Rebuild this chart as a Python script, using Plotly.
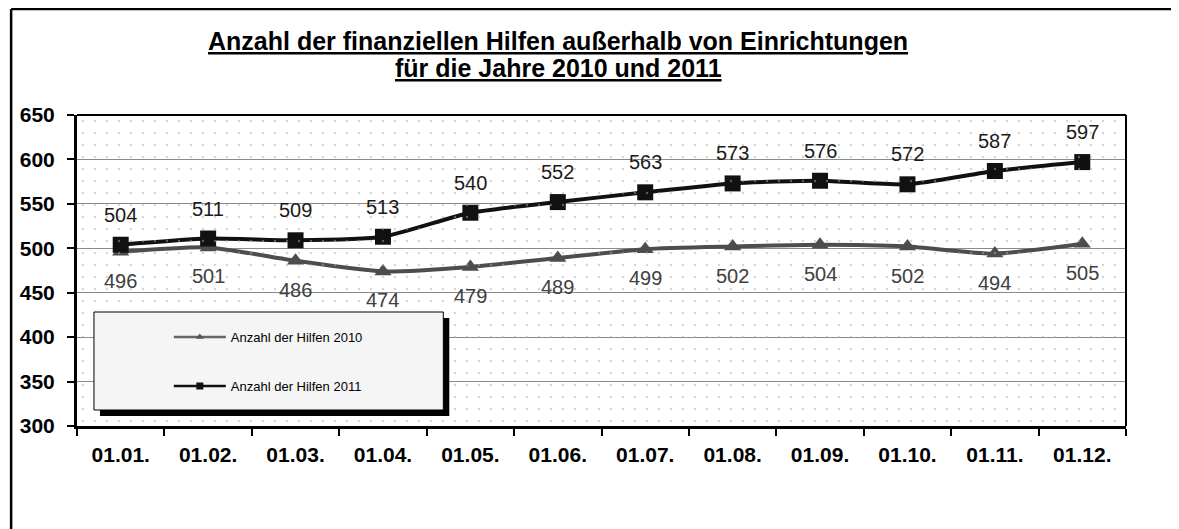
import plotly.graph_objects as go

months = ["01.01.", "01.02.", "01.03.", "01.04.", "01.05.", "01.06.",
          "01.07.", "01.08.", "01.09.", "01.10.", "01.11.", "01.12."]
hilfen_2010 = [496, 501, 486, 474, 479, 489, 499, 502, 504, 502, 494, 505]
hilfen_2011 = [504, 511, 509, 513, 540, 552, 563, 573, 576, 572, 587, 597]

# page body has an 8px margin, so the figure is a bit smaller than the window
OFF = 8
W, H = 1179 - OFF, 529 - OFF
L, T = 75 - OFF, 115 - OFF
pw, ph = 1126 - 75, 426 - 115
R, B = W - L - pw, H - T - ph


def px_x(p):
    # screen pixel -> paper x
    return (p - OFF - L) / pw


def px_y(p):
    # screen pixel -> paper y
    return (T + ph - (p - OFF)) / ph


FONT = "Arial, Liberation Sans, sans-serif"
C2010 = "#4d4d4d"
C2011 = "#111111"

fig = go.Figure()

# dotted background of the plot area
fig.add_trace(go.Scatter(
    x=[0, 1, 1, 0, 0], y=[0, 0, 1, 1, 0], xaxis="x2", yaxis="y2",
    mode="none", fill="toself", fillcolor="rgba(0,0,0,0)",
    fillpattern=dict(shape=".", fgcolor="#a8a8a8", bgcolor="rgba(0,0,0,0)",
                     size=12, solidity=0.03),
    hoverinfo="skip", showlegend=False))

fig.add_trace(go.Scatter(
    x=months, y=hilfen_2010, mode="lines+markers", name="Anzahl der Hilfen 2010",
    line=dict(color=C2010, width=4, shape="spline", smoothing=0.6),
    marker=dict(symbol="triangle-up", size=15, color=C2010), showlegend=False))
fig.add_trace(go.Scatter(
    x=months, y=hilfen_2011, mode="lines+markers", name="Anzahl der Hilfen 2011",
    line=dict(color=C2011, width=4, shape="spline", smoothing=0.6),
    marker=dict(symbol="square", size=16, color=C2011), showlegend=False))

# legend entries with small markers
fig.add_trace(go.Scatter(
    x=[None], y=[None], mode="lines+markers", name="Anzahl der Hilfen 2010",
    line=dict(color="#666666", width=2.5),
    marker=dict(symbol="triangle-up", size=7, color="#555555"), legend="legend"))
fig.add_trace(go.Scatter(
    x=[None], y=[None], mode="lines+markers", name="Anzahl der Hilfen 2011",
    line=dict(color="#111111", width=2.5),
    marker=dict(symbol="square", size=7, color="#111111"), legend="legend2"))

annotations = []
for m, v in zip(months, hilfen_2010):
    annotations.append(dict(x=m, y=v, text=str(v), showarrow=False, yshift=-29,
                            font=dict(family=FONT, size=20, color="#404040")))
for m, v in zip(months, hilfen_2011):
    annotations.append(dict(x=m, y=v, text=str(v), showarrow=False, yshift=30,
                            font=dict(family=FONT, size=20, color="#1a1a1a")))
for txt, yc in [("Anzahl der finanziellen Hilfen außerhalb von Einrichtungen", 41),
                ("für die Jahre 2010 und 2011", 68)]:
    annotations.append(dict(
        xref="paper", yref="paper", x=px_x(557), y=px_y(yc), yanchor="middle",
        showarrow=False, text="<b><u>" + txt + "</u></b>",
        font=dict(family=FONT, size=25, color="black")))

shapes = [
    # legend shadow and box
    dict(type="rect", xref="paper", yref="paper", layer="above",
         x0=px_x(98), x1=px_x(448), y0=px_y(416), y1=px_y(318),
         fillcolor="black", line=dict(width=0)),
    dict(type="rect", xref="paper", yref="paper", layer="above",
         x0=px_x(92), x1=px_x(442), y0=px_y(410), y1=px_y(312),
         fillcolor="#f5f5f5", line=dict(color="black", width=1)),
    # top and right frame of plot area
    dict(type="line", xref="paper", yref="paper", x0=0, x1=1, y0=1, y1=1,
         line=dict(color="black", width=2)),
    dict(type="line", xref="paper", yref="paper", x0=1, x1=1, y0=0, y1=1,
         line=dict(color="black", width=2)),
    # outer chart frame (top and left edge)
    dict(type="line", xref="paper", yref="paper", x0=px_x(9), x1=px_x(1185),
         y0=px_y(9), y1=px_y(9), line=dict(color="black", width=2.5)),
    dict(type="line", xref="paper", yref="paper", x0=px_x(9), x1=px_x(9),
         y0=px_y(9), y1=px_y(535), line=dict(color="black", width=2.5)),
]

fig.update_layout(
    width=W, height=H, margin=dict(l=L, r=R, t=T, b=B),
    paper_bgcolor="white", plot_bgcolor="white",
    font=dict(family=FONT, color="black"),
    xaxis=dict(type="category", tickson="boundaries", ticks="outside", ticklen=7,
               tickwidth=2, tickcolor="black", showline=True, linewidth=3,
               linecolor="black", showgrid=False, range=[-0.5, 11.5],
               ticklabelstandoff=8,
               tickfont=dict(family=FONT, size=21, color="black", weight="bold")),
    yaxis=dict(range=[300, 650], dtick=50, ticks="outside", ticklen=7, tickwidth=2,
               tickcolor="black", showline=True, linewidth=3, linecolor="black",
               showgrid=True, gridcolor="#8a8a8a", gridwidth=1, zeroline=False,
               ticklabelstandoff=8,
               tickfont=dict(family=FONT, size=21, color="black", weight="bold")),
    xaxis2=dict(overlaying="x", range=[0, 1], visible=False),
    yaxis2=dict(overlaying="y", range=[0, 1], visible=False),
    legend=dict(x=px_x(167), y=px_y(337), xanchor="left", yanchor="middle",
                bgcolor="rgba(0,0,0,0)", borderwidth=0, itemwidth=52,
                font=dict(family=FONT, size=13, color="black")),
    legend2=dict(x=px_x(167), y=px_y(386), xanchor="left", yanchor="middle",
                 bgcolor="rgba(0,0,0,0)", borderwidth=0, itemwidth=52,
                 font=dict(family=FONT, size=13, color="black")),
    annotations=annotations, shapes=shapes,
)

fig.write_html("out.html")
